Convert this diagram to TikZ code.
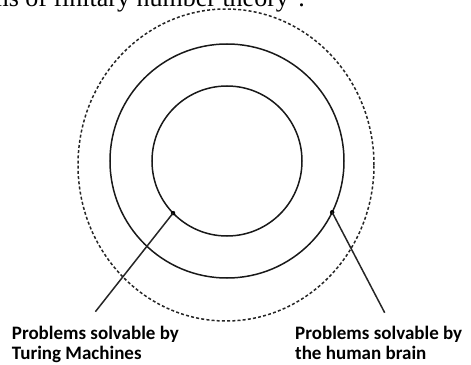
\documentclass[tikz,border=0pt]{standalone}
\usepackage{fontspec}
\newfontfamily\labelfont{Carlito}
\newfontfamily\headfont{Liberation Serif}
\usetikzlibrary{positioning}
\tikzset{
MyDotStyle/.style  ={circle, draw, fill=black,
                     inner sep=0pt,
                     minimum width=4pt},
MyCircleStyle/.style  ={line width=1.5pt, black!90},
MyDashStyle/.style  ={line width=1.5pt, black!85, dash pattern=on 3pt off 2.2pt},
MyEdgeStyle/.style  ={line width=1.5pt, black!85},
MyLabelStyle/.style  ={font=\labelfont\bfseries\fontsize{19}{20}\selectfont,
                       align=left, inner xsep=0pt, inner ysep=0.5pt},
}
\begin{document}
\begin{tikzpicture}[x=1pt, y=1pt]
\def \rin {75}
\def \rmid {117}
\useasboundingbox (-227,-203) rectangle (244,161);
\clip (-227,-203) rectangle (244,161);
%\draw [dash pattern=on 1pt off 1pt, step=20pt] (-227,-203) grid (244,161);

% text cut off at the top
\node [anchor=base east, inner sep=0pt, font=\headfont\fontsize{26}{28}\selectfont] (top) at (78,154.5) {ms of finitary number theory''.};

\begin{scope}  % circles
\draw [MyCircleStyle] (0,0) circle (\rin);
\draw [MyCircleStyle] (0,0) circle (\rmid);
\draw [MyDashStyle] (-1,-4) ellipse [x radius=148, y radius=156];
\end{scope}

\begin{scope}[every node/.style={MyDotStyle}]  % dots
\coordinate (TMdot) at (224:\rin); \draw (TMdot) node{};
\coordinate (HBdot) at (334:\rmid); \draw (HBdot) node{};
\end{scope}

\node [MyLabelStyle, anchor=north west] (TM) at (-215.3,-164.7) {Problems solvable by\\Turing Machines};
\node [MyLabelStyle, anchor=north west] (HB) at (68,-164.7) {Problems solvable by\\the human brain};

\begin{scope}[MyEdgeStyle]  % pointers
\draw (TMdot) to ([yshift=14pt]TM.north);
\draw (HBdot) to ([xshift=6pt, yshift=13pt]HB.north);
\end{scope}
\end{tikzpicture}
\end{document}
